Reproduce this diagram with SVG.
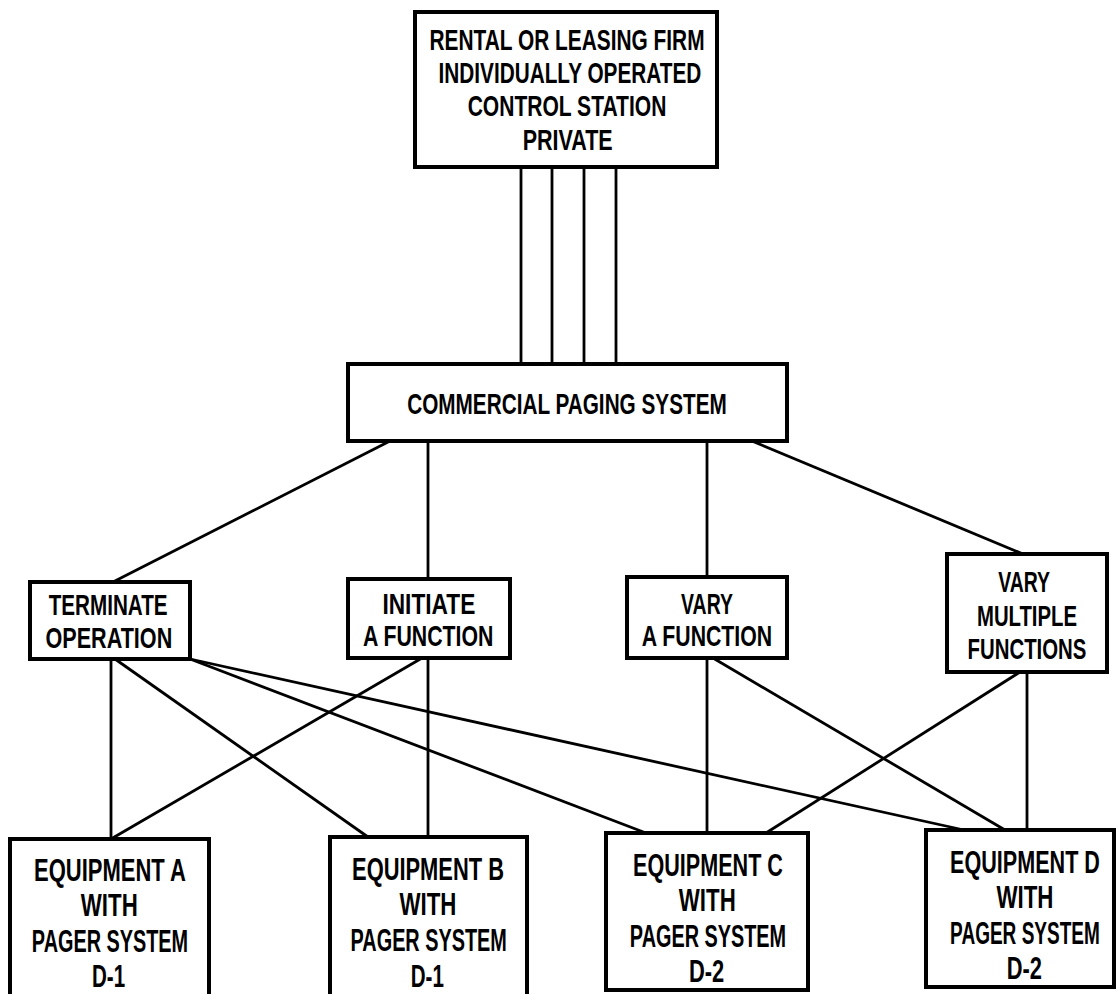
<svg xmlns="http://www.w3.org/2000/svg" width="1117" height="994" viewBox="0 0 1117 994">
<style>
.box{fill:#fff;stroke:#000;stroke-width:4}
.ln{stroke:#000;stroke-width:2.8;fill:none;stroke-linecap:butt}
text{font-family:"Liberation Sans","DejaVu Sans Condensed",sans-serif;text-anchor:middle;fill:#000;font-weight:bold}
.t29{font-size:29px}
.t30{font-size:30px}
.t31{font-size:31px}
</style>
<rect width="1117" height="994" fill="#fff"/>
<g id="connectors">
<line class="ln" x1="521" y1="167" x2="521" y2="365"/>
<line class="ln" x1="552" y1="167" x2="552" y2="365"/>
<line class="ln" x1="584" y1="167" x2="584" y2="365"/>
<line class="ln" x1="616" y1="167" x2="616" y2="365"/>
<line class="ln" x1="390" y1="441" x2="113" y2="582"/>
<line class="ln" x1="428" y1="441" x2="428" y2="579"/>
<line class="ln" x1="707" y1="440" x2="707" y2="577"/>
<line class="ln" x1="747" y1="439" x2="1023" y2="554"/>
<line class="ln" x1="111" y1="659" x2="111" y2="839"/>
<line class="ln" x1="115" y1="659" x2="368" y2="837"/>
<line class="ln" x1="190" y1="659" x2="646" y2="833"/>
<line class="ln" x1="190" y1="659" x2="964" y2="830"/>
<line class="ln" x1="422" y1="658" x2="111" y2="839"/>
<line class="ln" x1="428" y1="658" x2="428" y2="837"/>
<line class="ln" x1="707" y1="658" x2="707" y2="833"/>
<line class="ln" x1="713" y1="658" x2="1005" y2="830"/>
<line class="ln" x1="1020" y1="672" x2="766" y2="833"/>
<line class="ln" x1="1027" y1="672" x2="1027" y2="830"/>
</g>
<g id="rental">
<rect class="box" x="415" y="12" width="302" height="155"/>
<g transform="matrix(0.72 0 0 1 158.76 0)">
<text class="t29" x="567" y="50" textLength="382" lengthAdjust="spacingAndGlyphs">RENTAL OR LEASING FIRM</text>
<text class="t29" x="571" y="83" textLength="365" lengthAdjust="spacingAndGlyphs">INDIVIDUALLY OPERATED</text>
<text class="t29" x="567" y="116" textLength="276" lengthAdjust="spacingAndGlyphs">CONTROL STATION</text>
<text class="t29" x="568" y="150" textLength="125" lengthAdjust="spacingAndGlyphs">PRIVATE</text>
</g>
</g>
<g id="commercial">
<rect class="box" x="348" y="364" width="439" height="77"/>
<g transform="matrix(0.72 0 0 1 158.76 0)">
<text class="t30" x="567" y="414" textLength="444" lengthAdjust="spacingAndGlyphs">COMMERCIAL PAGING SYSTEM</text>
</g>
</g>
<g id="terminate">
<rect class="box" x="30" y="582" width="160" height="77"/>
<g transform="matrix(0.72 0 0 1 30.38 0)">
<text class="t29" x="108" y="615" textLength="165" lengthAdjust="spacingAndGlyphs">TERMINATE</text>
<text class="t29" x="109" y="648" textLength="176" lengthAdjust="spacingAndGlyphs">OPERATION</text>
</g>
</g>
<g id="initiate">
<rect class="box" x="348" y="579" width="162" height="79"/>
<g transform="matrix(0.72 0 0 1 119.98 0)">
<text class="t29" x="429" y="614" textLength="129" lengthAdjust="spacingAndGlyphs">INITIATE</text>
<text class="t29" x="428" y="646" textLength="181" lengthAdjust="spacingAndGlyphs">A FUNCTION</text>
</g>
</g>
<g id="vary">
<rect class="box" x="627" y="577" width="160" height="81"/>
<g transform="matrix(0.72 0 0 1 197.96 0)">
<text class="t29" x="707" y="614" textLength="72" lengthAdjust="spacingAndGlyphs">VARY</text>
<text class="t29" x="707" y="646" textLength="181" lengthAdjust="spacingAndGlyphs">A FUNCTION</text>
</g>
</g>
<g id="varymultiple">
<rect class="box" x="947" y="554" width="160" height="118"/>
<g transform="matrix(0.72 0 0 1 287.56 0)">
<text class="t29" x="1023" y="592" textLength="72" lengthAdjust="spacingAndGlyphs">VARY</text>
<text class="t29" x="1027" y="626" textLength="139" lengthAdjust="spacingAndGlyphs">MULTIPLE</text>
<text class="t29" x="1027" y="659" textLength="165" lengthAdjust="spacingAndGlyphs">FUNCTIONS</text>
</g>
</g>
<g id="equipA">
<path class="box" d="M10,1000 V839 H209 V1000"/>
<g transform="matrix(0.72 0 0 1 30.8 0)">
<text class="t31" x="110" y="881" textLength="211" lengthAdjust="spacingAndGlyphs">EQUIPMENT A</text>
<text class="t31" x="109" y="916" textLength="79" lengthAdjust="spacingAndGlyphs">WITH</text>
<text class="t31" x="110" y="952" textLength="217" lengthAdjust="spacingAndGlyphs">PAGER SYSTEM</text>
<text class="t31" x="108" y="987" textLength="46" lengthAdjust="spacingAndGlyphs">D-1</text>
</g>
</g>
<g id="equipB">
<path class="box" d="M330,1000 V837 H527 V1000"/>
<g transform="matrix(0.72 0 0 1 119.84 0)">
<text class="t31" x="428" y="880" textLength="211" lengthAdjust="spacingAndGlyphs">EQUIPMENT B</text>
<text class="t31" x="428" y="915" textLength="79" lengthAdjust="spacingAndGlyphs">WITH</text>
<text class="t31" x="429" y="951" textLength="217" lengthAdjust="spacingAndGlyphs">PAGER SYSTEM</text>
<text class="t31" x="427" y="987" textLength="46" lengthAdjust="spacingAndGlyphs">D-1</text>
</g>
</g>
<g id="equipC">
<rect class="box" x="606" y="833" width="202" height="157"/>
<g transform="matrix(0.72 0 0 1 198.24 0)">
<text class="t31" x="708" y="876" textLength="208" lengthAdjust="spacingAndGlyphs">EQUIPMENT C</text>
<text class="t31" x="707" y="911" textLength="79" lengthAdjust="spacingAndGlyphs">WITH</text>
<text class="t31" x="708" y="947" textLength="217" lengthAdjust="spacingAndGlyphs">PAGER SYSTEM</text>
<text class="t31" x="706" y="982" textLength="49" lengthAdjust="spacingAndGlyphs">D-2</text>
</g>
</g>
<g id="equipD">
<rect class="box" x="926" y="830" width="188" height="157"/>
<g transform="matrix(0.64 0 0 1 369 0)">
<text class="t31" x="1025" y="873" textLength="234" lengthAdjust="spacingAndGlyphs">EQUIPMENT D</text>
<text class="t31" x="1025" y="908" textLength="89" lengthAdjust="spacingAndGlyphs">WITH</text>
<text class="t31" x="1025" y="944" textLength="234" lengthAdjust="spacingAndGlyphs">PAGER SYSTEM</text>
<text class="t31" x="1024" y="979" textLength="55" lengthAdjust="spacingAndGlyphs">D-2</text>
</g>
</g>
</svg>
